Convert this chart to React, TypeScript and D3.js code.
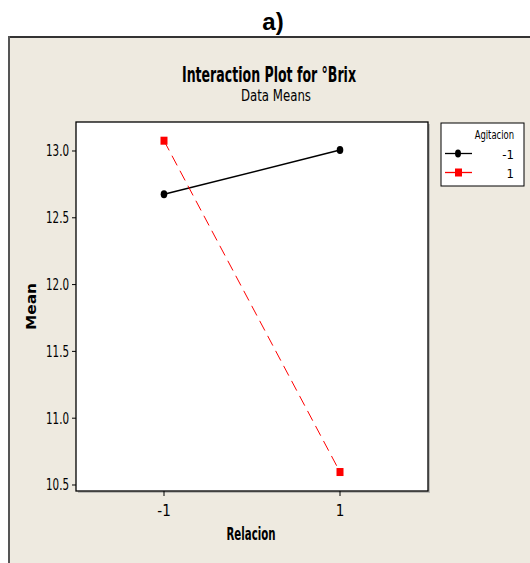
import React from "react";
import * as d3 from "d3";

const relacion = [-1, 1];
const agitacionLevels = ["-1", "1"];
const seriesNeg = [12.676, 13.007]; // Agitacion -1
const seriesPos = [13.077, 10.597]; // Agitacion 1
const yTicks = [10.5, 11.0, 11.5, 12.0, 12.5, 13.0];
const xTicks = [-1, 1];

const W = 530;
const H = 563;
const plot = { left: 76, right: 428, top: 122, bottom: 491 };
const FONT = "'DejaVu Sans Condensed', 'Liberation Sans Narrow', 'Liberation Sans', sans-serif";
const BG = "#EEEAE0";

export default function App() {
  const x = d3.scaleLinear().domain([-2, 2]).range([plot.left, plot.right]);
  const y = d3.scaleLinear().domain([10.455, 13.217]).range([plot.bottom, plot.top]);
  const line = d3
    .line<number>()
    .x((_, i) => x(relacion[i]))
    .y((d) => y(d));

  return (
    <svg
      width={W}
      height={H}
      style={{ position: "absolute", left: 0, top: 0, background: "#fff" }}
    >
      {/* a) */}
      <text x={273} y={30} textAnchor="middle" fontFamily="Arial, 'Liberation Sans', sans-serif" fontWeight="bold" fontSize={24}>
        a)
      </text>
      {/* panel */}
      <rect x={9} y={37} width={W} height={H} fill={BG} />
      <line x1={8} y1={37} x2={W} y2={37} stroke="#333" strokeWidth={2} />
      <line x1={9} y1={36} x2={9} y2={H} stroke="#555" strokeWidth={2} />

      {/* titles */}
      <text x={269} y={82} textAnchor="middle" fontFamily={FONT} fontWeight="bold" fontSize={21} textLength={174} lengthAdjust="spacingAndGlyphs">
        Interaction Plot for °Brix
      </text>
      <text x={276} y={101} textAnchor="middle" fontFamily={FONT} fontSize={16} textLength={70} lengthAdjust="spacingAndGlyphs">
        Data Means
      </text>

      {/* plot area */}
      <rect x={plot.left + 2} y={plot.top + 2} width={plot.right - plot.left} height={plot.bottom - plot.top} fill="#999" opacity={0.6} />
      <rect x={plot.left} y={plot.top} width={plot.right - plot.left} height={plot.bottom - plot.top} fill="#fff" stroke="#000" strokeWidth={1.3} />

      {/* y axis ticks */}
      {yTicks.map((t) => (
        <g key={t}>
          <line x1={plot.left - 4} x2={plot.left} y1={y(t)} y2={y(t)} stroke="#000" strokeWidth={1} />
          <text x={plot.left - 7} y={y(t) + 5.5} textAnchor="end" fontFamily={FONT} fontSize={15.5} textLength={23} lengthAdjust="spacingAndGlyphs">
            {t.toFixed(1)}
          </text>
        </g>
      ))}
      {/* x axis ticks */}
      {xTicks.map((t) => (
        <g key={t}>
          <line x1={x(t)} x2={x(t)} y1={plot.bottom} y2={plot.bottom + 5} stroke="#000" strokeWidth={1} />
          <text x={x(t)} y={516} textAnchor="middle" fontFamily={FONT} fontSize={15}>
            {t}
          </text>
        </g>
      ))}

      {/* axis labels */}
      <text x={251} y={540} textAnchor="middle" fontFamily={FONT} fontWeight="bold" fontSize={17} textLength={49} lengthAdjust="spacingAndGlyphs">
        Relacion
      </text>
      <text transform={`translate(36, ${(plot.top + plot.bottom) / 2}) rotate(-90)`} textAnchor="middle" fontFamily={FONT} fontWeight="bold" fontSize={14} textLength={47} lengthAdjust="spacingAndGlyphs">
        Mean
      </text>

      {/* series */}
      <path d={line(seriesNeg) || ""} fill="none" stroke="#000" strokeWidth={1.5} />
      <path d={line(seriesPos) || ""} fill="none" stroke="#f00" strokeWidth={1} strokeDasharray="11,6" />
      {seriesNeg.map((v, i) => (
        <ellipse key={"n" + i} cx={x(relacion[i])} cy={y(v)} rx={3.3} ry={4} fill="#000" />
      ))}
      {seriesPos.map((v, i) => (
        <rect key={"p" + i} x={x(relacion[i]) - 3.5} y={y(v) - 4} width={7} height={8} fill="#f00" />
      ))}

      {/* legend */}
      <rect x={441} y={123} width={83} height={63} fill="#fff" stroke="#000" strokeWidth={1} />
      <g transform="translate(514, 139) scale(0.78, 1)">
        <text x={0} y={0} textAnchor="end" fontFamily={FONT} fontSize={12}>
          Agitacion
        </text>
      </g>
      {agitacionLevels.map((lvl, i) => {
        const ly = i === 0 ? 153.5 : 172.5;
        const color = i === 0 ? "#000" : "#f00";
        return (
          <g key={lvl}>
            <line x1={445} x2={472} y1={ly} y2={ly} stroke={color} strokeWidth={1.3} />
            {i === 0 ? (
              <ellipse cx={458} cy={ly} rx={3} ry={4} fill="#000" />
            ) : (
              <rect x={455} y={ly - 4} width={7} height={8} fill="#f00" />
            )}
            <text x={514} y={ly + 5} textAnchor="end" fontFamily={FONT} fontSize={13}>
              {lvl}
            </text>
          </g>
        );
      })}
    </svg>
  );
}
